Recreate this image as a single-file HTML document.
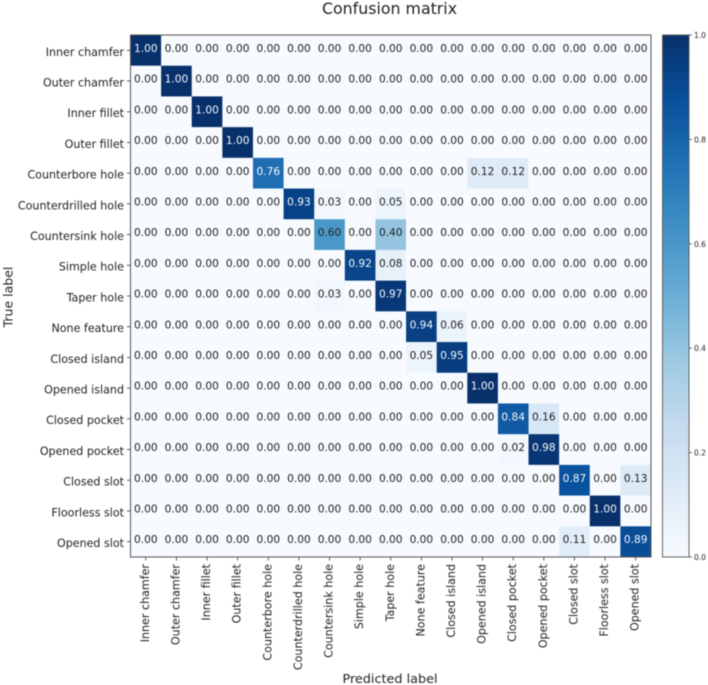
<!DOCTYPE html>
<html lang="en">
<head>
<meta charset="utf-8">
<title>Confusion matrix</title>
<style>
html,body{margin:0;padding:0;background:#fff;width:708px;height:685px;overflow:hidden}
svg{display:block;filter:blur(0.5px)}
text{font-family:"DejaVu Sans","Liberation Sans",sans-serif;fill:#222}
</style>
</head>
<body>
<svg id="chart" xmlns="http://www.w3.org/2000/svg" width="708" height="685" viewBox="0 0 708 685">
<rect width="708" height="685" fill="#fff"/>
<text x="389.5" y="14" font-size="15.8" text-anchor="middle">Confusion matrix</text>
<text transform="translate(12.5,297) rotate(-90)" font-size="12.5" text-anchor="middle">True label</text>
<text x="390" y="683" font-size="12.8" text-anchor="middle">Predicted label</text>
</svg>
<script>
const categories = ["Inner chamfer","Outer chamfer","Inner fillet","Outer fillet","Counterbore hole","Counterdrilled hole","Countersink hole","Simple hole","Taper hole","None feature","Closed island","Opened island","Closed pocket","Opened pocket","Closed slot","Floorless slot","Opened slot"];
const matrixValues = [
[1.00,0,0,0,0,0,0,0,0,0,0,0,0,0,0,0,0],
[0,1.00,0,0,0,0,0,0,0,0,0,0,0,0,0,0,0],
[0,0,1.00,0,0,0,0,0,0,0,0,0,0,0,0,0,0],
[0,0,0,1.00,0,0,0,0,0,0,0,0,0,0,0,0,0],
[0,0,0,0,0.76,0,0,0,0,0,0,0.12,0.12,0,0,0,0],
[0,0,0,0,0,0.93,0.03,0,0.05,0,0,0,0,0,0,0,0],
[0,0,0,0,0,0,0.60,0,0.40,0,0,0,0,0,0,0,0],
[0,0,0,0,0,0,0,0.92,0.08,0,0,0,0,0,0,0,0],
[0,0,0,0,0,0,0.03,0,0.97,0,0,0,0,0,0,0,0],
[0,0,0,0,0,0,0,0,0,0.94,0.06,0,0,0,0,0,0],
[0,0,0,0,0,0,0,0,0,0.05,0.95,0,0,0,0,0,0],
[0,0,0,0,0,0,0,0,0,0,0,1.00,0,0,0,0,0],
[0,0,0,0,0,0,0,0,0,0,0,0,0.84,0.16,0,0,0],
[0,0,0,0,0,0,0,0,0,0,0,0,0.02,0.98,0,0,0],
[0,0,0,0,0,0,0,0,0,0,0,0,0,0,0.87,0,0.13],
[0,0,0,0,0,0,0,0,0,0,0,0,0,0,0,1.00,0],
[0,0,0,0,0,0,0,0,0,0,0,0,0,0,0.11,0,0.89]
];
const colorbarTicks = [0,0.2,0.4,0.6,0.8,1.0];
const blues = ["#f7fbff","#deebf7","#c6dbef","#9ecae1","#6baed6","#4292c6","#2171b5","#08519c","#08306b"];

const svg = document.getElementById('chart');
const NS = 'http://www.w3.org/2000/svg';
const plot = {left:130.5, right:651, top:35, bottom:557};
const bar = {left:662.5, right:689};

function xScale(i){ return plot.left + (plot.right-plot.left)*i/categories.length; }
function yScale(i){ return plot.top + (plot.bottom-plot.top)*i/categories.length; }
function barScale(v){ return plot.bottom - (plot.bottom-plot.top)*v; }
function colorFor(v){
  const t = Math.max(0,Math.min(1,v))*(blues.length-1);
  const i = Math.min(Math.floor(t),blues.length-2);
  const f = t-i;
  const a = blues[i], b = blues[i+1];
  const ch = k => Math.round(parseInt(a.substr(k,2),16)*(1-f)+parseInt(b.substr(k,2),16)*f);
  return 'rgb('+ch(1)+','+ch(3)+','+ch(5)+')';
}
function make(tag, attrs, txt){
  const el = document.createElementNS(NS, tag);
  for (const k in attrs) el.setAttribute(k, attrs[k]);
  if (txt !== undefined) el.textContent = txt;
  svg.appendChild(el);
  return el;
}
const cw = xScale(1)-xScale(0), ch = yScale(1)-yScale(0);

matrixValues.forEach((row,r)=>{
  row.forEach((v,c)=>{
    const cell = make('rect',{x:xScale(c),y:yScale(r),width:cw+0.3,height:ch+0.3,fill:colorFor(v)});
    
    
  });
});
matrixValues.forEach((row,r)=>{
  row.forEach((v,c)=>{
    const t = make('text',{x:xScale(c)+cw/2,y:yScale(r)+ch/2+1.6,'font-size':10.6,'text-anchor':'middle'},v.toFixed(2));
    
    
    t.style.fill = v>0.65 ? '#f4f8fc' : '#222';
  });
});
categories.forEach((name,i)=>{
  const yc = yScale(i)+ch/2, xc = xScale(i)+cw/2;
  const yt = make('line',{x1:plot.left-3.5,x2:plot.left,y1:yc,y2:yc,stroke:'#333','stroke-width':0.8});
  
  
  const yl = make('text',{x:plot.left-6.5,y:yc+5.4,'font-size':11.1,'text-anchor':'end'},name);
  
  
  const xt = make('line',{x1:xc,x2:xc,y1:plot.bottom,y2:plot.bottom+3.5,stroke:'#333','stroke-width':0.8});
  
  
  const xl = make('text',{transform:'translate('+(xc+3)+','+(plot.bottom+7)+') rotate(-90)','font-size':11.1,'text-anchor':'end'},name);
  
  
});
const frame = make('rect',{x:plot.left,y:plot.top,width:plot.right-plot.left,height:plot.bottom-plot.top,fill:'none',stroke:'#555','stroke-width':1});



const defs = document.createElementNS(NS,'defs');
const grad = document.createElementNS(NS,'linearGradient');
grad.setAttribute('id','cbgrad');
grad.setAttribute('x1','0'); grad.setAttribute('y1','1'); grad.setAttribute('x2','0'); grad.setAttribute('y2','0');
blues.forEach((col,i)=>{
  const s = document.createElementNS(NS,'stop');
  s.setAttribute('offset', i/(blues.length-1));
  s.setAttribute('stop-color', col);
  grad.appendChild(s);
});
defs.appendChild(grad);
svg.appendChild(defs);
const cb = make('rect',{x:bar.left,y:plot.top,width:bar.right-bar.left,height:plot.bottom-plot.top,fill:'url(#cbgrad)',stroke:'#555','stroke-width':0.9});


colorbarTicks.forEach(v=>{
  const y = barScale(v);
  const tk = make('line',{x1:bar.right,x2:bar.right+3,y1:y,y2:y,stroke:'#333','stroke-width':0.7});
  
  
  const lb = make('text',{x:bar.right+5,y:y+3,'font-size':7.5},v.toFixed(1));
  
  
});
</script>
</body>
</html>
